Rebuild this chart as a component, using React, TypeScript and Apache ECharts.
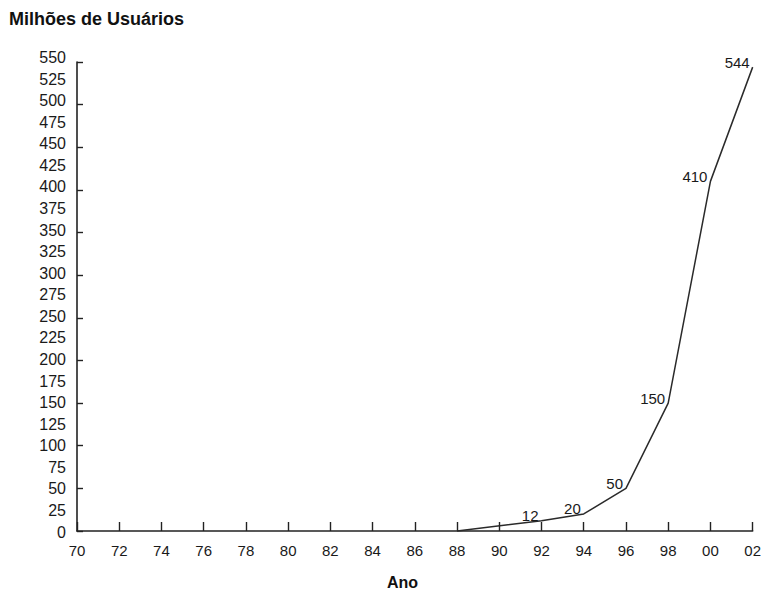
import React, { useEffect, useRef } from "react";
import * as echarts from "echarts";

const titleText = "Milhões de Usuários";
const xAxisName = "Ano";
const years = [88, 92, 94, 96, 98, 100, 102];
const users = [0, 12, 20, 50, 150, 410, 544];
const showLabel = [false, true, true, true, true, true, true];

const X_MIN = 70;
const X_MAX = 102;
const Y_MAX = 550;

export default function App() {
  const ref = useRef<HTMLDivElement>(null);
  useEffect(() => {
    if (!ref.current) return;
    const chart = echarts.init(ref.current, null, { renderer: "svg" });
    const axisColor = "#222";
    const textColor = "#1a1a1a";
    const font = "'Liberation Sans', Arial, sans-serif";
    chart.setOption({
      animation: false,
      backgroundColor: "#ffffff",
      grid: [
        { left: 77, right: 7, top: 62, bottom: 58 },
        { left: 77, right: 7, top: 57.5, bottom: 57 },
      ],
      xAxis: [
        {
          type: "value",
          gridIndex: 0,
          min: X_MIN,
          max: X_MAX,
          interval: 2,
          axisLine: { show: true, lineStyle: { color: axisColor, width: 1.6 } },
          axisTick: { show: true, inside: true, length: 9, lineStyle: { color: axisColor, width: 1.4 } },
          splitLine: { show: false },
          axisLabel: {
            color: textColor,
            fontFamily: font,
            fontSize: 15,
            lineHeight: 15,
            margin: 12,
            showMaxLabel: true,
            showMinLabel: true,
            formatter: (v: number) => String(Math.round(v) % 100).padStart(2, "0"),
          },
        },
        { type: "value", gridIndex: 1, min: 0, max: 1, show: false },
      ],
      yAxis: [
        {
          type: "value",
          gridIndex: 0,
          min: 0,
          max: Y_MAX,
          interval: 50,
          axisLine: { show: true, lineStyle: { color: axisColor, width: 1.6 } },
          axisTick: { show: true, inside: true, length: 6, lineStyle: { color: axisColor, width: 1.4 } },
          splitLine: { show: false },
          axisLabel: { show: false },
        },
        {
          type: "value",
          gridIndex: 1,
          min: 0,
          max: Y_MAX,
          interval: 25,
          axisLine: { show: false },
          axisTick: { show: false },
          splitLine: { show: false },
          axisLabel: {
            color: textColor,
            fontFamily: font,
            fontSize: 16,
            margin: 11,
            showMaxLabel: true,
            showMinLabel: true,
          },
        },
      ],
      series: [
        {
          type: "line",
          xAxisIndex: 0,
          yAxisIndex: 0,
          data: years.map((y, i) => ({
            value: [y, users[i]],
            label: { show: showLabel[i] },
          })),
          symbol: "circle",
          symbolSize: 2,
          showSymbol: true,
          itemStyle: { color: "rgba(0,0,0,0)", borderWidth: 0 },
          lineStyle: { color: "#2a2a2a", width: 1.5 },
          label: {
            show: true,
            position: "left",
            distance: 2,
            offset: [0, -5],
            color: textColor,
            fontFamily: font,
            fontSize: 15,
            formatter: (p: any) => String(p.value[1]),
          },
          clip: false,
        },
      ],
      graphic: [
        {
          type: "text",
          left: 9,
          top: 10,
          style: {
            text: titleText,
            font: `bold 18px ${font}`,
            fill: "#111",
          },
        },
        {
          type: "text",
          left: 387,
          top: 574,
          style: {
            text: xAxisName,
            font: `bold 16px ${font}`,
            fill: "#111",
          },
        },
      ],
    });
    return () => chart.dispose();
  }, []);
  return <div ref={ref} style={{ width: 764, height: 589, position: "absolute", left: 0, top: 0 }} />;
}
